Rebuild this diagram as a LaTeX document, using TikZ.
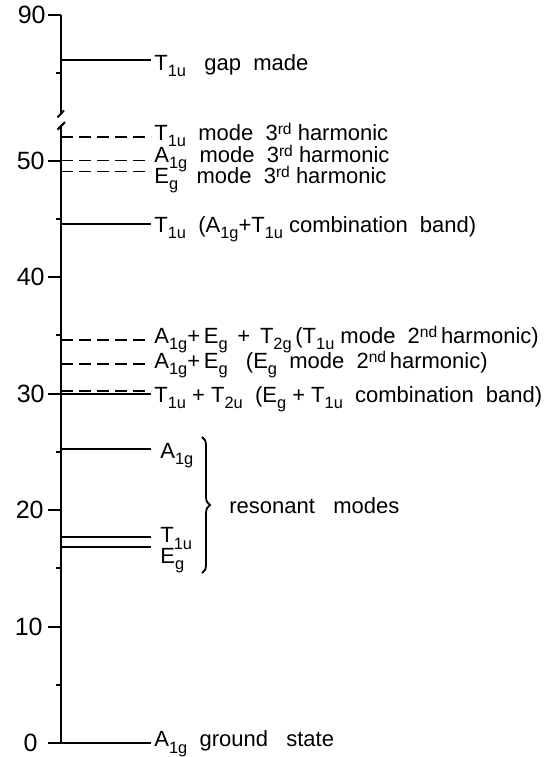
\documentclass[tikz,border=0pt]{standalone}
\usepackage{fontspec}
\setmainfont{Liberation Sans}
\usepackage{tikz}
\usetikzlibrary{positioning,decorations.pathreplacing}
\newcommand{\sbs}[1]{\raisebox{-3.3pt}{\fontsize{8.2}{9}\selectfont #1}}
\newcommand{\sps}[1]{\raisebox{3pt}{\fontsize{7.8}{9}\selectfont #1}}

\begin{document}
\begin{tikzpicture}[
            x=0.5pt, y=5.825pt,
            every node/.style={font=\fontsize{11}{12}\selectfont, inner sep=0pt},
            lvl/.style={anchor=base west},
            ticklbl/.style={anchor=east, font=\fontsize{12.5}{13}\selectfont},
            axis/.style={line width=1pt},
            level/.style={line width=0.9pt},
            dlevel/.style={line width=0.9pt, dash pattern=on 6pt off 3pt},
        ]
            \useasboundingbox (0,-1.2) rectangle (555,63.78);

            % axis, broken between 53 and 82
            \draw[axis] (61,0) -- (61,53.05);
            \draw[axis] (61,54.1) -- (61,62.5);
            \draw[axis] (57.5,52.65) -- (65,53.3);
            \draw[axis] (57.5,53.7) -- (64,54.3);

            % ticks
            \draw[axis] (48,0) -- (61,0);
            \draw[axis] (48,10) -- (61,10);
            \draw[axis] (48,20) -- (61,20);
            \draw[axis] (48,30) -- (61,30);
            \draw[axis] (48,40) -- (61,40);
            \draw[axis] (48,50) -- (61,50);
            \draw[axis] (48,62.5) -- (61,62.5);
            \draw[axis] (56,5) -- (61,5);
            \draw[axis] (56,15) -- (61,15);
            \draw[axis] (56,25) -- (61,25);
            \draw[axis] (56,35) -- (61,35);
            \draw[axis] (56,45) -- (61,45);
            \draw[axis] (56,57.5) -- (61,57.5);

            \node[ticklbl] (t0) at (38,0) {0};
            \node[ticklbl] (t10) at (43,10) {10};
            \node[ticklbl] (t20) at (44,20) {20};
            \node[ticklbl] (t30) at (45,30) {30};
            \node[ticklbl] (t40) at (45,40) {40};
            \node[ticklbl] (t50) at (45,50) {50};
            \node[ticklbl] (t90) at (46,62.5) {90};

            % levels
            \draw[level] (61,58.63) -- (151,58.63);
            \node[lvl] (gap) at (154,57.75) {T\sbs{1u}\ \ \ gap\ \ made};

            \draw[dlevel] (61,52.02) -- (151,52.02);
            \node[lvl] (h3t) at (154,51.76) {T\sbs{1u}\ \ mode\ \ 3\sps{rd}\ harmonic};
            \draw[dlevel] (61,50.0) -- (151,50.0);
            \node[lvl] (h3a) at (154,49.87) {A\sbs{1g}\ \ mode\ \ 3\sps{rd}\ harmonic};
            \draw[dlevel] (61,49.06) -- (151,49.06);
            \node[lvl] (h3e) at (154,48.07) {E\sbs{g}\ \ \ mode\ \ 3\sps{rd}\ harmonic};

            \draw[level] (61,44.55) -- (151,44.55);
            \node[lvl] (cb1) at (154,43.86) {T\sbs{1u}\ \ (A\sbs{1g}+T\sbs{1u}\ combination\ \ band)};

            \draw[dlevel] (61,34.59) -- (151,34.59);
            \node[lvl] (h2t) at (154,34.33) {A\sbs{1g}+\,E\sbs{g}\,\ +\,\ T\sbs{2g}\,(T\sbs{1u}\ mode\ \ 2\sps{nd}\,harmonic)};
            \draw[dlevel] (61,32.53) -- (151,32.53);
            \node[lvl] (h2e) at (154,32.19) {A\sbs{1g}+\,E\sbs{g}\ \ \ (E\sbs{g}\ \ mode\ \ 2\sps{nd}\,harmonic)};

            \draw[dlevel] (61,30.21) -- (151,30.21);
            \draw[level] (61,29.96) -- (151,29.96);
            \node[lvl] (cb2) at (154,29.27) {T\sbs{1u}\ +\ T\sbs{2u}\ \ (E\sbs{g}\ +\ T\sbs{1u}\ \ combination\ \ band)};

            \draw[level] (61,25.21) -- (151,25.21);
            \node[lvl] (ra) at (160,24.46) {A\sbs{1g}};
            \draw[level] (61,17.66) -- (151,17.66);
            \node[lvl] (rt) at (160,17.17) {T\sbs{1u}};
            \draw[level] (61,16.85) -- (151,16.85);
            \node[lvl] (re) at (160,15.45) {E\sbs{g}};

            \draw[level] (61,0) -- (151,0);
            \node[lvl] (gs) at (154,-0.34) {A\sbs{1g}\ \ ground\ \ \ state};

            % resonant modes
            \coordinate (brtop) at (202,26.27);
            \coordinate (brbot) at (202,14.59);
            \draw[level, decorate, decoration={brace, amplitude=4pt}] (brtop) -- (brbot);
            \node[lvl] (res) at (229,19.74) {resonant\ \ \ modes};
        \end{tikzpicture}
\end{document}
